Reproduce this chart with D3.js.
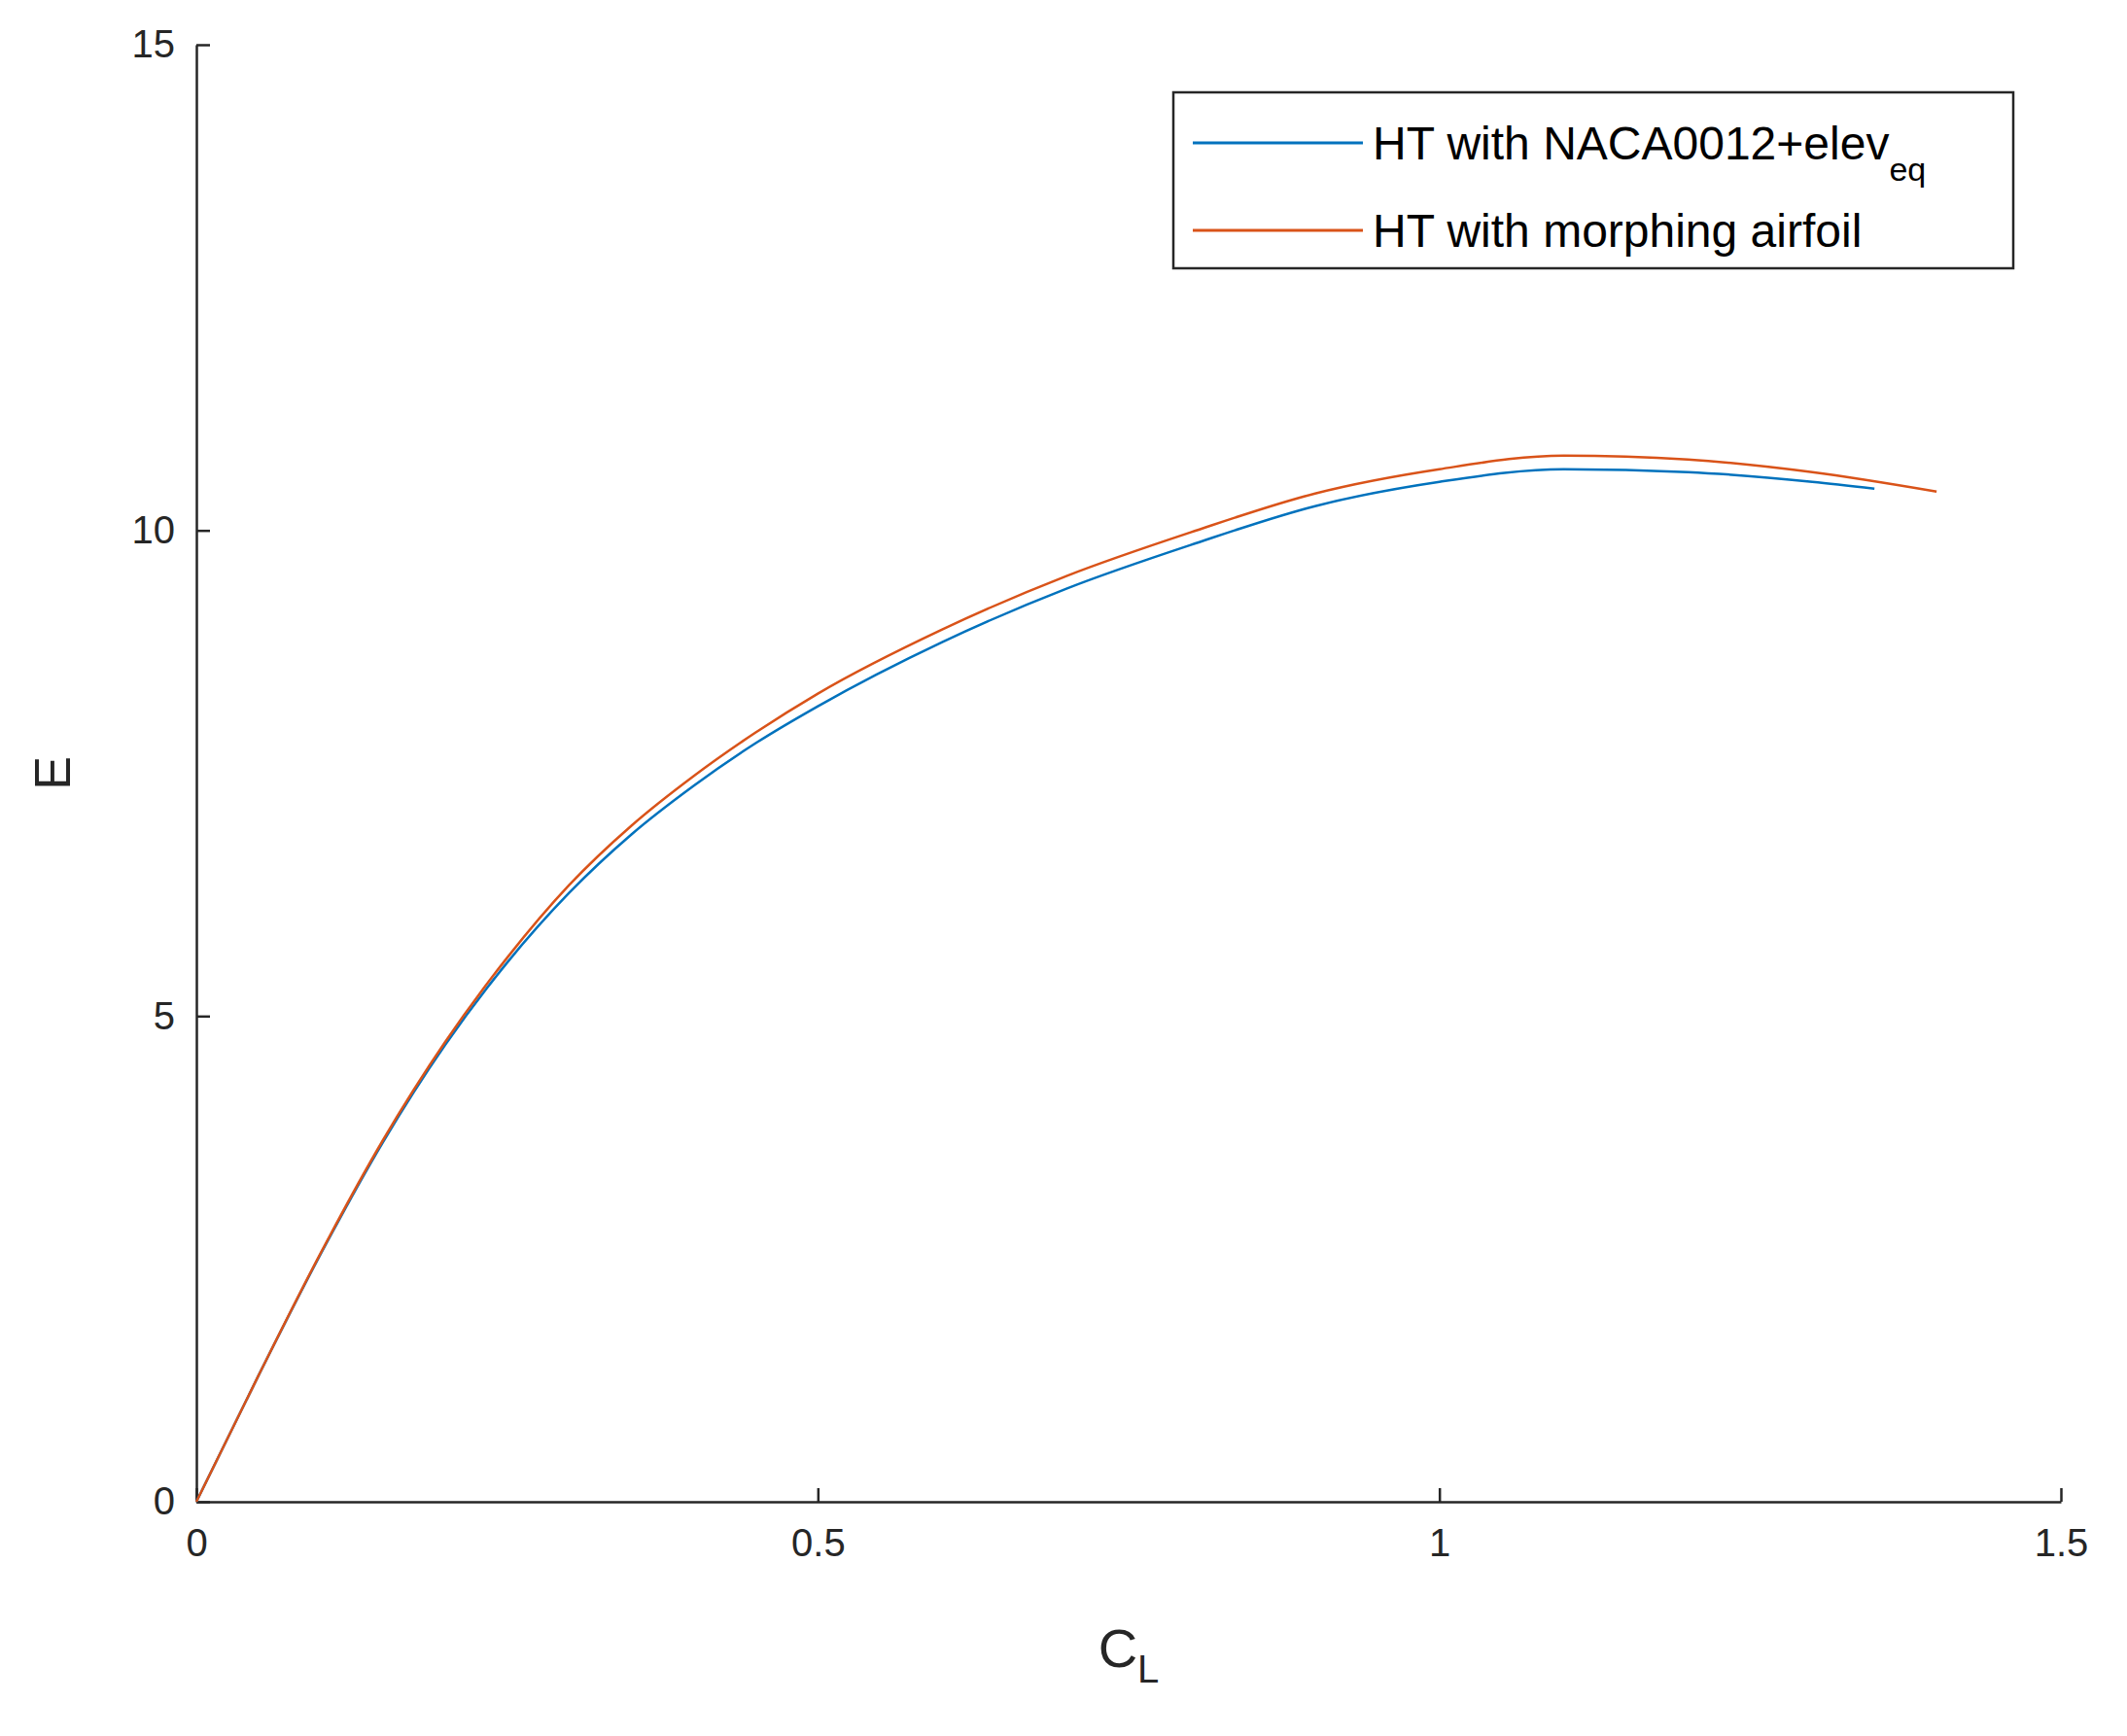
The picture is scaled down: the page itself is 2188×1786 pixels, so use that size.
<!DOCTYPE html>
<html>
<head>
<meta charset="utf-8">
<script src="https://cdn.jsdelivr.net/npm/d3@7"></script>
<style>
  body { margin: 0; background: #fff; }
  text { font-family: "Liberation Sans", Arial, sans-serif; }
</style>
</head>
<body>
<div id="chart"></div>
<script>
const clBlue = [0, 0.05, 0.1, 0.15, 0.2, 0.25, 0.3, 0.35, 0.4, 0.45, 0.5, 0.6, 0.7, 0.8, 0.9, 1.0, 1.1, 1.2, 1.3, 1.35];
const eBlue  = [0, 1.3, 2.55, 3.7, 4.7, 5.55, 6.27, 6.87, 7.37, 7.81, 8.19, 8.85, 9.4, 9.85, 10.25, 10.5, 10.63, 10.6, 10.5, 10.43];
const clOrange = [0, 0.05, 0.1, 0.15, 0.2, 0.25, 0.3, 0.35, 0.4, 0.45, 0.5, 0.6, 0.7, 0.8, 0.9, 1.0, 1.1, 1.2, 1.3, 1.4];
const eOrange  = [0, 1.3, 2.56, 3.72, 4.73, 5.6, 6.35, 6.96, 7.47, 7.92, 8.32, 8.98, 9.53, 9.98, 10.38, 10.63, 10.77, 10.73, 10.6, 10.4];
const xTicks = [0, 0.5, 1, 1.5];
const yTicks = [0, 5, 10, 15];
const seriesNames = ["HT with NACA0012+elev", "HT with morphing airfoil"];
const seriesColors = ["#0072BD", "#D95319"];

const W = 2188, H = 1786;
const margin = {top: 46, right: 68, bottom: 241, left: 202},
    width = W - margin.left - margin.right,
    height = H - margin.top - margin.bottom;

const svg = d3.select("#chart").append("svg")
    .attr("width", W).attr("height", H)
  .append("g")
    .attr("transform", `translate(${margin.left},${margin.top})`);

const x = d3.scaleLinear().domain([0, 1.5]).range([0, width]);
const y = d3.scaleLinear().domain([0, 15]).range([height, 0]);

const xAxis = svg.append("g")
  .attr("transform", `translate(0,${height})`)
  .call(d3.axisBottom(x).tickValues(xTicks).tickFormat(d3.format("")).tickSizeInner(-14).tickSizeOuter(0).tickPadding(28));
const yAxis = svg.append("g")
  .call(d3.axisLeft(y).tickValues(yTicks).tickSizeInner(-14).tickSizeOuter(0).tickPadding(22));
[xAxis, yAxis].forEach(a => {
  a.select(".domain").attr("stroke", "#262626").attr("stroke-width", 2.5);
  a.selectAll(".tick line").attr("stroke", "#262626").attr("stroke-width", 2.5);
  a.selectAll(".tick text").style("font-size", "40px").attr("fill", "#262626");
});

svg.append("text")
  .attr("x", width / 2).attr("y", height + 170)
  .attr("text-anchor", "middle").style("font-size", "56px").attr("fill", "#262626")
  .html('C<tspan dy="16" style="font-size:40px">L</tspan>');
svg.append("text")
  .attr("transform", `translate(-130,${height / 2}) rotate(-90)`)
  .attr("text-anchor", "middle").style("font-size", "52px").attr("fill", "#262626")
  .text("E");

const line = d3.line().x(d => x(d[0])).y(d => y(d[1])).curve(d3.curveMonotoneX);
const series = [d3.zip(clBlue, eBlue), d3.zip(clOrange, eOrange)];
series.forEach((s, i) => {
  svg.append("path").datum(s)
    .attr("fill", "none").attr("stroke", seriesColors[i]).attr("stroke-width", 2.5)
    .attr("d", line);
});

// legend
const lg = svg.append("g").attr("transform", `translate(${1207 - margin.left},${95 - margin.top})`);
lg.append("rect").attr("width", 864).attr("height", 181)
  .attr("fill", "#fff").attr("stroke", "#262626").attr("stroke-width", 2.5);
seriesNames.forEach((n, i) => {
  const yy = 52 + i * 90;
  lg.append("line").attr("x1", 20).attr("x2", 195).attr("y1", yy).attr("y2", yy)
    .attr("stroke", seriesColors[i]).attr("stroke-width", 3);
  const t = lg.append("text").attr("x", 205).attr("y", yy + 17)
    .style("font-size", "48px").attr("fill", "#000").text(n);
  if (i === 0) t.append("tspan").attr("dy", 22).style("font-size", "34px").text("eq");
});
</script>
</body>
</html>
